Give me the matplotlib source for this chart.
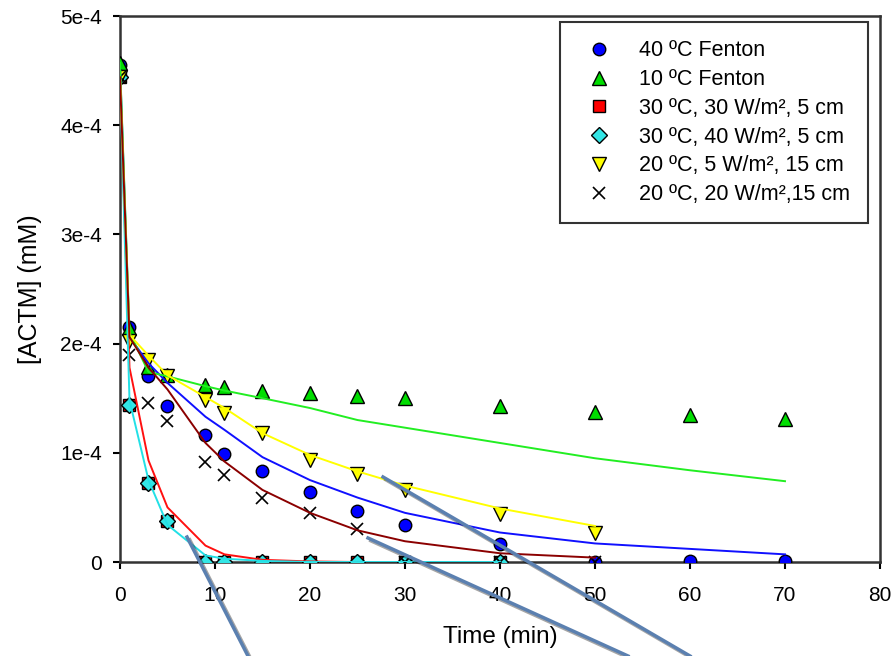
import matplotlib
matplotlib.use("Agg")
import matplotlib.pyplot as plt
import matplotlib.patheffects as pe
from matplotlib.lines import Line2D
import numpy as np

plt.rcParams["font.family"] = ["Liberation Sans", "DejaVu Sans"]

# measured data (time in min, [ACTM] in mM)
t_all = [0, 1, 3, 5, 9, 11, 15, 20, 25, 30, 40, 50, 60, 70]
fenton40 = [4.55e-4, 2.15e-4, 1.70e-4, 1.43e-4, 1.16e-4, 0.99e-4, 0.83e-4,
            0.64e-4, 0.47e-4, 0.34e-4, 0.165e-4, 0.0, 0.01e-4, 0.01e-4]
fenton10 = [4.57e-4, 2.14e-4, 1.79e-4, 1.71e-4, 1.62e-4, 1.60e-4, 1.57e-4,
            1.55e-4, 1.52e-4, 1.50e-4, 1.43e-4, 1.37e-4, 1.35e-4, 1.31e-4]

t_40 = [0, 1, 3, 5, 9, 11, 15, 20, 25, 30, 40]
uv30_30 = [4.44e-4, 1.44e-4, 0.72e-4, 0.38e-4, 0.0, 0.0, 0.0, 0.0, 0.0, 0.0, 0.0]
uv30_40 = [4.44e-4, 1.44e-4, 0.72e-4, 0.38e-4, 0.0, 0.0, 0.0, 0.0, 0.0, 0.0, 0.0]

t_50 = [0, 1, 3, 5, 9, 11, 15, 20, 25, 30, 40, 50]
uv20_5 = [4.44e-4, 2.02e-4, 1.85e-4, 1.70e-4, 1.48e-4, 1.36e-4, 1.18e-4,
          0.93e-4, 0.81e-4, 0.66e-4, 0.44e-4, 0.27e-4]
uv20_20 = [4.44e-4, 1.90e-4, 1.46e-4, 1.29e-4, 0.92e-4, 0.80e-4, 0.59e-4,
           0.45e-4, 0.30e-4, 0.0, 0.0, 0.0]

# model fits
fit40 = [4.55e-4, 2.06e-4, 1.82e-4, 1.64e-4, 1.33e-4, 1.21e-4, 0.96e-4,
         0.75e-4, 0.59e-4, 0.45e-4, 0.27e-4, 0.17e-4, 0.12e-4, 0.07e-4]
fit10 = [4.57e-4, 2.10e-4, 1.74e-4, 1.70e-4, 1.61e-4, 1.57e-4, 1.50e-4,
         1.41e-4, 1.30e-4, 1.23e-4, 1.09e-4, 0.95e-4, 0.84e-4, 0.74e-4]
fit30_30 = [4.44e-4, 1.78e-4, 0.93e-4, 0.50e-4, 0.15e-4, 0.07e-4, 0.02e-4,
            0.005e-4, 0.0, 0.0, 0.0]
fit30_40 = [4.44e-4, 1.48e-4, 0.75e-4, 0.34e-4, 0.06e-4, 0.03e-4, 0.01e-4,
            0.0, 0.0, 0.0, 0.0]
fit20_5 = [4.44e-4, 2.08e-4, 1.89e-4, 1.71e-4, 1.51e-4, 1.41e-4, 1.18e-4,
           0.98e-4, 0.83e-4, 0.70e-4, 0.49e-4, 0.33e-4]
fit20_20 = [4.44e-4, 2.06e-4, 1.78e-4, 1.58e-4, 1.09e-4, 0.92e-4, 0.66e-4,
            0.45e-4, 0.29e-4, 0.19e-4, 0.08e-4, 0.04e-4]

labels = ["40 ºC Fenton", "10 ºC Fenton",
          "30 ºC, 30 W/m², 5 cm", "30 ºC, 40 W/m², 5 cm",
          "20 ºC, 5 W/m², 15 cm", "20 ºC, 20 W/m²,15 cm"]
yticks = [0, 1e-4, 2e-4, 3e-4, 4e-4, 5e-4]
ytick_labels = ["0", "1e-4", "2e-4", "3e-4", "4e-4", "5e-4"]

fig = plt.figure(figsize=(8.95, 6.56), dpi=100)
ax = fig.add_axes([120 / 895, 94 / 656, 760 / 895, 546 / 656])

ax.plot(t_all, fenton40, "o", ms=9, mfc="#0000ff", mec="black", mew=1, label=labels[0], zorder=3)
ax.plot(t_all, fenton10, "^", ms=10, mfc="#00dd00", mec="black", mew=1, label=labels[1], zorder=3)
ax.plot(t_40, uv30_30, "s", ms=8, mfc="#ff0000", mec="black", mew=1, label=labels[2], zorder=3)
ax.plot(t_40, uv30_40, "D", ms=8.5, mfc="#33e6e6", mec="black", mew=1, label=labels[3], zorder=3)
ax.plot(t_50, uv20_5, "v", ms=10, mfc="#ffff00", mec="black", mew=1, label=labels[4], zorder=3)
ax.plot(t_50, uv20_20, "x", ms=9, mec="black", mew=1.2, label=labels[5], zorder=3)

lw = 1.4
ax.plot(t_all, fit40, color="#1010ff", lw=lw, zorder=4)
ax.plot(t_all, fit10, color="#22ee22", lw=lw, zorder=4)
ax.plot(t_40, fit30_30, color="#ff1010", lw=lw, zorder=4)
ax.plot(t_40, fit30_40, color="#22e0e6", lw=lw, zorder=4)
ax.plot(t_50, fit20_5, color="#ffff00", lw=lw, zorder=4)
ax.plot(t_50, fit20_20, color="#8b0000", lw=lw, zorder=4)

ax.set_xlim(0, 80)
ax.set_ylim(0, 5e-4)
ax.set_xticks(np.arange(0, 81, 10))
ax.set_yticks(yticks)
ax.set_yticklabels(ytick_labels)
ax.tick_params(direction="out", length=5, width=1.5, labelsize=15, colors="black")
ax.tick_params(axis="x", pad=12)
ax.tick_params(axis="y", pad=8)
for s in ax.spines.values():
    s.set_linewidth(1.8)
    s.set_color("#333333")
ax.set_xlabel("Time (min)", fontsize=17.5)
ax.set_ylabel("[ACTM] (mM)", fontsize=18)
ax.xaxis.set_label_coords(0.5, (562 - 626) / 546)
ax.yaxis.set_label_coords((42 - 120) / 760, 0.5)

leg = ax.legend(loc="upper right", bbox_to_anchor=(868 / 895, 1 - 22 / 656),
                bbox_transform=fig.transFigure, borderaxespad=0, fontsize=15.5,
                frameon=True, fancybox=False, edgecolor="black",
                handletextpad=0.85, labelspacing=0.36, borderpad=0.85,
                handlelength=1.95)
leg.get_frame().set_linewidth(1.5)

# leftover callout lines from the original slide
shadow = [pe.SimpleLineShadow(offset=(2, -2), alpha=0.35), pe.Normal()]
for (x0, y0), (x1, y1) in [((187, 537), (248, 656)),
                           ((368, 538), (628, 656)),
                           ((383, 477), (690, 656))]:
    ln = Line2D([x0 / 895, x1 / 895], [1 - y0 / 656, 1 - y1 / 656],
                transform=fig.transFigure, color="#5b80b0", lw=2.5,
                path_effects=shadow, zorder=10)
    fig.add_artist(ln)

fig.savefig("out.png", dpi=100)
